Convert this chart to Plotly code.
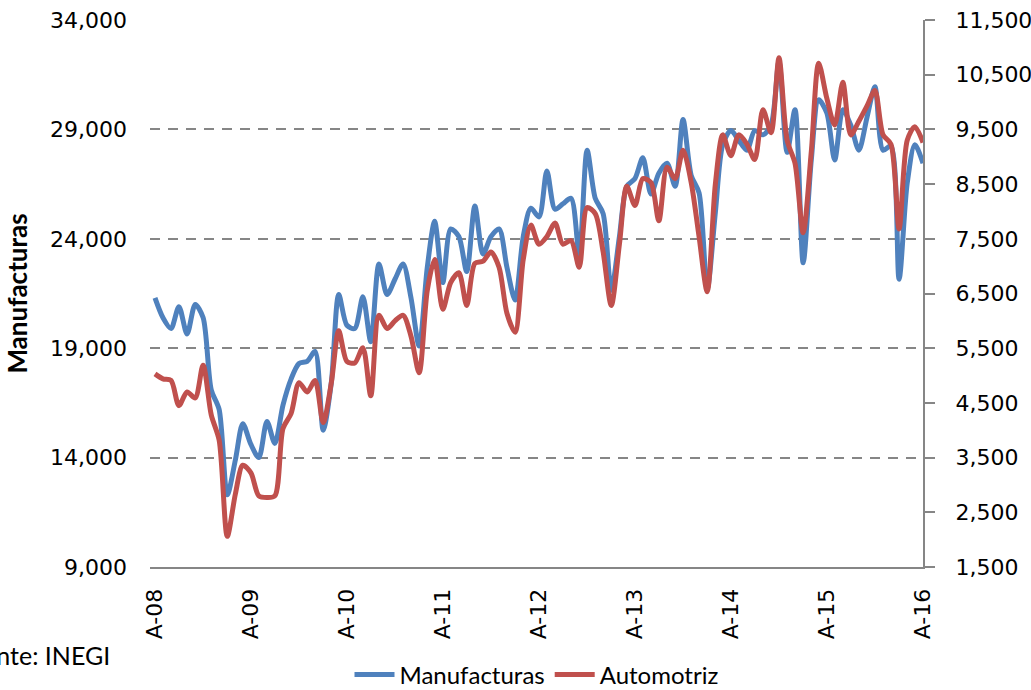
import pandas as pd
import plotly.graph_objects as go

# Monthly series, April 2008 - April 2016
months = pd.date_range("2008-04-01", "2016-04-01", freq="MS")

manufacturas = [
    21300, 20400, 19900, 20900, 19650, 21000, 20400, 17100, 16200, 12300,
    13900, 15550, 14600, 14000, 15650, 14650, 16400, 17600, 18300, 18400,
    18850, 15250, 17450, 21450, 20050, 19900, 21350, 19300, 22850, 21450,
    22150, 22850, 21300, 19100, 22700, 24800, 22000, 24450, 24100, 22500,
    25500, 23300, 24100, 24450, 22700, 21200, 24100, 25400, 25000, 27100,
    25350, 25600, 25850, 23250, 28050, 25850, 25150, 21650, 24100, 26400,
    26750, 27700, 26050, 27000, 27450, 26400, 29450, 26900, 26100, 21700,
    25200, 28300, 28950, 28500, 28050, 28950, 28750, 29200, 32100, 27950,
    29900, 22900, 27600, 30350, 29750, 27600, 29900, 29200, 28050, 29550,
    30950, 28050, 28250, 22150, 26550, 28300, 27450,
]

automotriz = [
    5030, 4940, 4910, 4450, 4700, 4590, 5190, 4280, 3820, 2060,
    2840, 3360, 3220, 2800, 2770, 2800, 4030, 4310, 4870, 4700,
    4910, 4140, 4870, 5820, 5260, 5230, 5510, 4630, 6100, 5860,
    6000, 6100, 5720, 5050, 6560, 7120, 6210, 6700, 6880, 6280,
    7050, 7090, 7260, 6980, 6140, 5790, 7120, 7750, 7400, 7540,
    7790, 7400, 7470, 6980, 8070, 7960, 7260, 6280, 7400, 8460,
    8110, 8600, 8530, 7830, 8810, 8600, 9120, 8530, 7540, 6530,
    8500, 9400, 9020, 9400, 9230, 8950, 9860, 9440, 10810, 9300,
    8880, 7610, 9090, 10710, 10070, 9580, 10360, 9400, 9650, 9930,
    10210, 9400, 9230, 7680, 9300, 9550, 9260,
]

tick_dates = pd.date_range("2008-04-01", "2016-04-01", freq="12MS")
tick_text = ["A-08", "A-09", "A-10", "A-11", "A-12", "A-13", "A-14", "A-15", "A-16"]

AXIS_GRAY = "#868686"
TICK_FONT = dict(family="DejaVu Sans", size=22, color="#000000")
NARROW = "Lato, Liberation Sans, sans-serif"

fig = go.Figure()
fig.add_trace(go.Scatter(
    x=months, y=manufacturas, name="Manufacturas", mode="lines",
    line=dict(color="#4F81BD", width=5, shape="spline", smoothing=0.8),
    yaxis="y",
))
fig.add_trace(go.Scatter(
    x=months, y=automotriz, name="Automotriz", mode="lines",
    line=dict(color="#C0504D", width=5, shape="spline", smoothing=0.8),
    yaxis="y2",
))

fig.update_layout(
    width=1031, height=690,
    margin=dict(l=150, r=108, t=20, b=123, autoexpand=False),
    plot_bgcolor="white", paper_bgcolor="white",
    showlegend=True,
    legend=dict(
        orientation="h", x=0.5, xanchor="center",
        yref="container", y=1 - 675 / 690, yanchor="middle",
        font=dict(family=NARROW, size=24, color="#000000"),
        itemwidth=40, tracegroupgap=0,
    ),
    xaxis=dict(
        range=[pd.Timestamp("2008-03-13"), pd.Timestamp("2016-04-01")],
        tickvals=tick_dates, ticktext=tick_text, tickangle=-90,
        tickfont=TICK_FONT, ticks="", ticklabelstandoff=11,
        showgrid=False, showline=True, linecolor=AXIS_GRAY, linewidth=2,
        zeroline=False, automargin=False,
    ),
    yaxis=dict(
        range=[9000, 34000], tick0=9000, dtick=5000, tickformat=",",
        tickfont=TICK_FONT, ticks="", ticklabelstandoff=22,
        showgrid=True, gridcolor=AXIS_GRAY, gridwidth=2, griddash="10px,8px",
        showline=False, zeroline=False, automargin=False,
        title=dict(text="<b>Manufacturas</b>", font=dict(family=NARROW, size=26, color="#000000"), standoff=14),
    ),
    yaxis2=dict(
        range=[1500, 11500], tick0=1500, dtick=1000, tickformat=",",
        overlaying="y", side="right", anchor="x",
        tickfont=TICK_FONT, ticks="outside", ticklen=10, tickwidth=2, tickcolor=AXIS_GRAY,
        ticklabelstandoff=16,
        showgrid=False, showline=True, linecolor=AXIS_GRAY, linewidth=2,
        zeroline=False, automargin=False,
    ),
    annotations=[dict(
        text="Fuente: INEGI", xref="paper", yref="paper",
        x=(112 - 150) / 773, y=(567 - 655) / 547, xanchor="right", yanchor="middle",
        showarrow=False, font=dict(family=NARROW, size=25, color="#000000"),
    )],
)

fig.write_html("out.html")
